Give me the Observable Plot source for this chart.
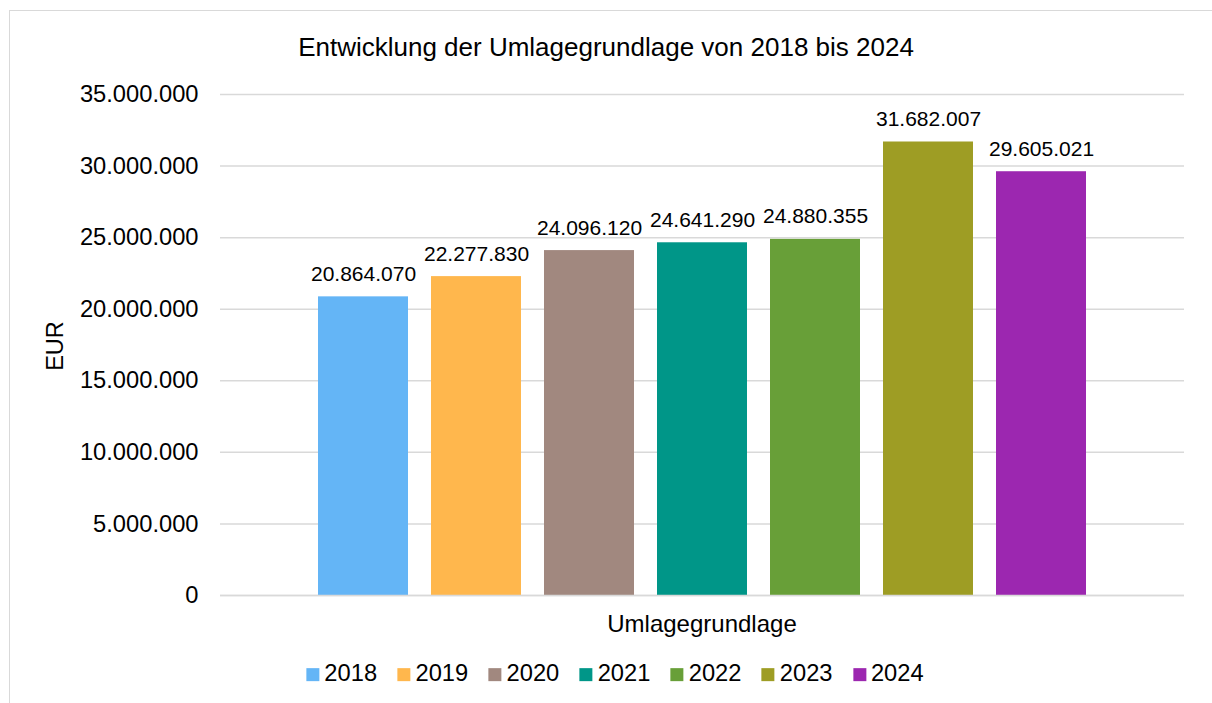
<!DOCTYPE html>
<html>
<head>
<meta charset="utf-8">
<script src="https://cdn.jsdelivr.net/npm/d3@7"></script>
<script src="https://cdn.jsdelivr.net/npm/@observablehq/plot@0.6"></script>
<style>
  html, body { margin: 0; padding: 0; background: #fff; }
  body { width: 1212px; height: 703px; overflow: hidden; font-family: "Liberation Sans", Arial, sans-serif; color: #000; }
  #wrap { position: relative; width: 1212px; height: 703px; overflow: hidden; }
  #border { position: absolute; left: 9px; top: 10px; width: 1220px; height: 720px; border: 1.5px solid #d9d9d9; box-sizing: border-box; }
  #chart { position: absolute; left: 0; top: 0; }
  .lbl { position: absolute; white-space: nowrap; line-height: 1; }
  #title { font-size: 26px; left: 606px; top: 46.5px; transform: translate(-50%, -50%); }
  #xlabel { font-size: 24px; left: 702px; top: 623.7px; transform: translate(-50%, -50%); }
  #ylabel { font-size: 23.5px; left: 56px; top: 345.5px; transform: translate(-50%, -50%) rotate(-90deg); }
  #legend { position: absolute; left: 615px; top: 674px; transform: translate(-50%, -50%); display: flex; gap: 20.4px; font-size: 23.7px; line-height: 1; white-space: nowrap; }
  .item { display: flex; align-items: center; gap: 5px; }
  .sw { width: 13px; height: 13px; display: inline-block; position: relative; top: 1px; }
</style>
</head>
<body>
<div id="wrap">
  <div id="border"></div>
  <div id="chart"></div>
  <div id="title" class="lbl"></div>
  <div id="xlabel" class="lbl"></div>
  <div id="ylabel" class="lbl"></div>
  <div id="legend"></div>
</div>
<script>
const titleText = "Entwicklung der Umlagegrundlage von 2018 bis 2024";
const xLabelText = "Umlagegrundlage";
const yLabelText = "EUR";
const years = ["2018", "2019", "2020", "2021", "2022", "2023", "2024"];
const values = [20864070, 22277830, 24096120, 24641290, 24880355, 31682007, 29605021];
const colors = ["#64B5F6", "#FFB74D", "#A1887F", "#009688", "#689F38", "#9E9D24", "#9C27B0"];
const yTicks = [0, 5000000, 10000000, 15000000, 20000000, 25000000, 30000000, 35000000];

const data = years.map((y, i) => ({year: y, value: values[i]}));
const de = d3.formatLocale({decimal: ",", thousands: ".", grouping: [3], currency: ["", " €"]});
const fmt = de.format(",d");
const font = '"Liberation Sans", Arial, sans-serif';

const chart = Plot.plot({
  width: 1212,
  height: 703,
  marginTop: 94,
  marginBottom: 108,
  marginLeft: 220,
  marginRight: 28,
  style: {fontFamily: font, color: "#000", background: "transparent", overflow: "visible"},
  x: {type: "band", domain: years, paddingInner: 0.205, paddingOuter: 0.86, axis: null},
  y: {domain: [0, 35000000]},
  color: {domain: years, range: colors},
  marks: [
    Plot.gridY(yTicks, {stroke: "#d9d9d9", strokeOpacity: 1, strokeWidth: 1.5}),
    Plot.axisY(yTicks, {tickSize: 0, tickPadding: 22, fontSize: 23.7, tickFormat: fmt, label: null, fill: "#000"}),
    Plot.barY(data, {x: "year", y: "value", fill: "year"}),
    Plot.ruleY([0], {stroke: "#d9d9d9", strokeWidth: 1.5}),
    Plot.text(data, {x: "year", y: "value", text: d => fmt(d.value), lineAnchor: "bottom", dy: -16, fontSize: 21, fill: "#000"})
  ]
});
document.getElementById("chart").appendChild(chart);

document.getElementById("title").textContent = titleText;
document.getElementById("xlabel").textContent = xLabelText;
document.getElementById("ylabel").textContent = yLabelText;
const legend = document.getElementById("legend");
years.forEach((y, i) => {
  const item = document.createElement("div");
  item.className = "item";
  const sw = document.createElement("span");
  sw.className = "sw";
  sw.style.background = colors[i];
  const t = document.createElement("span");
  t.textContent = y;
  item.appendChild(sw);
  item.appendChild(t);
  legend.appendChild(item);
});
</script>
</body>
</html>
